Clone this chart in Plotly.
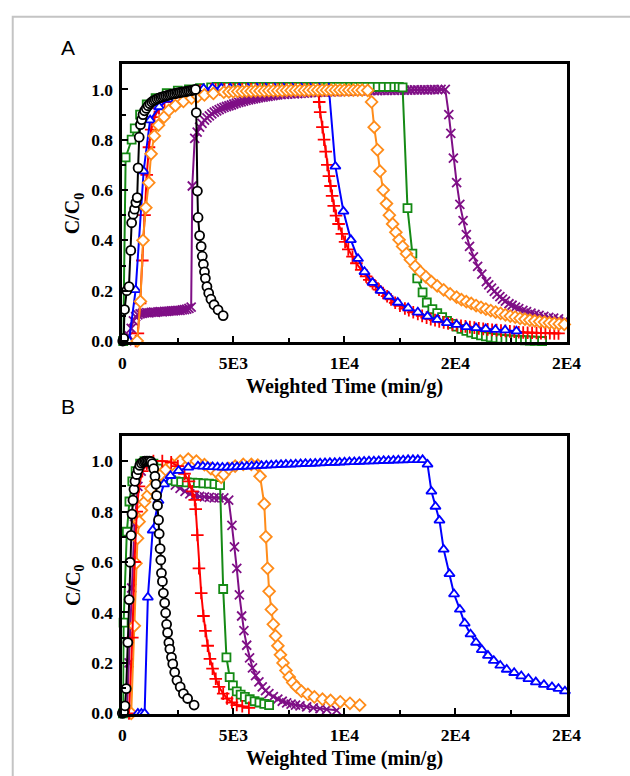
import plotly.graph_objects as go

# ---------------- Panel A: breakthrough / elution curves ----------------
A_BLACK = [(20, 0.0), (60, 0.01), (100, 0.125), (200, 0.20), (300, 0.216), (380, 0.36), (420, 0.47),
           (490, 0.504), (550, 0.524), (610, 0.55), (670, 0.57), (710, 0.688), (760, 0.81), (815, 0.86),
           (870, 0.88), (930, 0.90), (1000, 0.915), (1080, 0.925), (1160, 0.935), (1240, 0.943),
           (1320, 0.95), (1400, 0.955), (1480, 0.958), (1560, 0.962), (1640, 0.965), (1720, 0.968),
           (1800, 0.97), (1880, 0.972), (1960, 0.974), (2040, 0.976), (2120, 0.978), (2200, 0.98),
           (2280, 0.982), (2360, 0.983), (2440, 0.985), (2520, 0.986), (2600, 0.988), (2680, 0.989),
           (2760, 0.99), (2840, 0.991), (2920, 0.993), (3000, 0.994), (3080, 0.995), (3160, 0.997),
           (3240, 0.998), (3300, 1.0), (3330, 0.908), (3380, 0.596), (3410, 0.491), (3480, 0.419),
           (3550, 0.376), (3600, 0.337), (3650, 0.305), (3700, 0.275), (3740, 0.249), (3810, 0.216),
           (3890, 0.19), (3990, 0.166), (4130, 0.144), (4310, 0.124), (4540, 0.101)]

A_GREEN = [(40, 0.0), (150, 0.73), (420, 0.80), (560, 0.845), (800, 0.90), (1100, 0.94), (1500, 0.965),
           (2000, 0.985), (2500, 0.995), (3000, 1.0), (3500, 1.005), (4000, 1.008), (4250, 1.01),
           (4500, 1.01), (4750, 1.01), (5000, 1.01), (5250, 1.01), (5500, 1.01), (5750, 1.01), (6000, 1.01),
           (6250, 1.01), (6500, 1.01), (6750, 1.01), (7000, 1.01), (7250, 1.01), (7500, 1.01), (7750, 1.01),
           (8000, 1.01), (8250, 1.01), (8500, 1.01), (8750, 1.01), (9000, 1.01), (9250, 1.01), (9500, 1.01),
           (9750, 1.01), (10000, 1.01), (10250, 1.01), (10500, 1.01), (10750, 1.01), (11000, 1.01),
           (11250, 1.01), (11500, 1.01), (11750, 1.01), (12000, 1.01), (12250, 1.01), (12450, 1.01),
           (12620, 1.008), (12840, 0.528), (13060, 0.347), (13280, 0.249), (13520, 0.193), (13710, 0.153),
           (13960, 0.127), (14180, 0.111), (14400, 0.095), (14620, 0.08), (14840, 0.068), (15050, 0.057),
           (15270, 0.048), (15490, 0.04), (15710, 0.033), (15930, 0.027), (16150, 0.022), (16370, 0.018),
           (16590, 0.014), (16810, 0.011), (17030, 0.009), (17250, 0.007), (17470, 0.006), (17690, 0.005),
           (17910, 0.004), (18130, 0.003), (18350, 0.002), (18570, 0.001), (18900, 0.0)]

A_RED = [(600, 0.0), (700, 0.03), (800, 0.15), (900, 0.32), (1000, 0.5), (1100, 0.66), (1200, 0.77),
         (1300, 0.84), (1450, 0.89), (1650, 0.925), (1900, 0.95), (2200, 0.965), (2600, 0.978),
         (3000, 0.988), (3500, 0.995), (4000, 1.0), (4200, 1.0), (4400, 1.0), (4600, 1.0), (4800, 1.0),
         (5000, 1.0), (5200, 1.0), (5400, 1.0), (5600, 1.0), (5800, 1.0), (6000, 1.0), (6200, 1.0),
         (6400, 1.0), (6600, 1.0), (6800, 1.0), (7000, 1.0), (7200, 1.0), (7400, 1.0), (7600, 1.0),
         (7800, 1.0), (8000, 1.0), (8200, 1.0), (8400, 1.0), (8600, 1.0), (8836, 1.0), (8865, 0.95),
         (8909, 0.91), (9010, 0.85), (9083, 0.80), (9156, 0.753), (9229, 0.70), (9302, 0.655),
         (9375, 0.616), (9447, 0.577), (9520, 0.537), (9622, 0.498), (9738, 0.465), (9884, 0.426),
         (10030, 0.394), (10175, 0.364), (10364, 0.335), (10539, 0.309), (10757, 0.283), (10976, 0.257),
         (11120, 0.243), (11267, 0.23), (11410, 0.217), (11558, 0.204), (11740, 0.191), (11922, 0.178),
         (12100, 0.165), (12286, 0.152), (12500, 0.14), (12723, 0.129), (12900, 0.122), (13100, 0.114),
         (13305, 0.107), (13500, 0.1), (13700, 0.093), (13887, 0.087), (14080, 0.083), (14270, 0.078),
         (14470, 0.074), (14670, 0.07), (14860, 0.066), (15052, 0.063), (15250, 0.06), (15450, 0.058),
         (15650, 0.055), (15850, 0.053), (16050, 0.05), (16250, 0.048), (16450, 0.046), (16650, 0.044),
         (16850, 0.043), (17050, 0.041), (17250, 0.04), (17450, 0.038), (17650, 0.037), (17850, 0.035),
         (18050, 0.034), (18250, 0.033), (18450, 0.033), (18650, 0.032), (18850, 0.031), (19050, 0.031),
         (19250, 0.031), (19450, 0.03), (19640, 0.03)]

A_BLUE = [(300, 0.0), (600, 0.203), (960, 0.675), (1250, 0.878), (1660, 0.93), (2060, 0.96), (2460, 0.978),
          (2860, 0.99), (3260, 0.998), (3660, 1.003), (4060, 1.005), (4460, 1.005), (4860, 1.005),
          (5260, 1.005), (5660, 1.005), (6060, 1.005), (6460, 1.005), (6860, 1.005), (7260, 1.005),
          (7660, 1.005), (8060, 1.005), (8460, 1.005), (8860, 1.005), (9300, 1.005), (9593, 0.694),
          (9957, 0.515), (10291, 0.402), (10612, 0.327), (10903, 0.275), (11267, 0.232), (11630, 0.20),
          (11995, 0.177), (12402, 0.153), (12868, 0.131), (13305, 0.114), (13742, 0.098), (14178, 0.085),
          (14615, 0.072), (15051, 0.065), (15488, 0.056), (15925, 0.052), (16362, 0.048), (16799, 0.045),
          (17236, 0.043), (17745, 0.039)]

A_ORANGE = [(670, 0.0), (815, 0.157), (931, 0.40), (1060, 0.53), (1193, 0.629), (1295, 0.744), (1441, 0.815),
            (1630, 0.858), (1878, 0.89), (2096, 0.917), (2387, 0.936), (2751, 0.952), (3115, 0.965),
            (3400, 0.972), (3697, 0.978), (4100, 0.984), (4570, 0.989), (4800, 0.99), (5000, 0.991),
            (5200, 0.992), (5400, 0.992), (5600, 0.993), (5800, 0.993), (6000, 0.994), (6200, 0.994),
            (6400, 0.994), (6600, 0.995), (6800, 0.995), (7000, 0.995), (7200, 0.995), (7400, 0.996),
            (7600, 0.996), (7800, 0.996), (8000, 0.996), (8200, 0.996), (8400, 0.996), (8600, 0.997),
            (8800, 0.997), (9000, 0.997), (9200, 0.997), (9400, 0.997), (9600, 0.997), (9800, 0.997),
            (10000, 0.997), (10200, 0.997), (10400, 0.997), (10600, 0.997), (10800, 0.997), (11048, 0.996),
            (11223, 0.95), (11340, 0.85), (11485, 0.76), (11601, 0.675), (11747, 0.60), (11893, 0.546),
            (12024, 0.50), (12170, 0.465), (12315, 0.432), (12461, 0.402), (12621, 0.376), (12795, 0.347),
            (12970, 0.323), (13188, 0.297), (13420, 0.275), (13669, 0.255), (13917, 0.236), (14179, 0.219),
            (14470, 0.203), (14761, 0.187), (15052, 0.174), (15270, 0.164), (15490, 0.156), (15710, 0.149),
            (15930, 0.141), (16150, 0.134), (16370, 0.127), (16590, 0.121), (16810, 0.115), (17030, 0.11),
            (17250, 0.104), (17470, 0.099), (17690, 0.095), (17910, 0.09), (18130, 0.087), (18350, 0.083),
            (18570, 0.08), (18790, 0.077), (19010, 0.075), (19230, 0.072), (19450, 0.07), (19670, 0.068),
            (19900, 0.066)]

A_PURPLE = [(200, 0.0), (300, 0.02), (400, 0.05), (500, 0.08), (600, 0.097), (700, 0.104), (800, 0.108),
            (900, 0.11), (1000, 0.112), (1100, 0.113), (1200, 0.112), (1300, 0.114), (1400, 0.115),
            (1500, 0.114), (1600, 0.116), (1700, 0.117), (1800, 0.116), (1900, 0.118), (2000, 0.118),
            (2100, 0.119), (2200, 0.12), (2300, 0.12), (2400, 0.121), (2500, 0.122), (2600, 0.122),
            (2700, 0.124), (2800, 0.125), (2900, 0.127), (3000, 0.13), (3100, 0.135), (3150, 0.616),
            (3260, 0.805), (3370, 0.83), (3480, 0.85), (3590, 0.865), (3700, 0.878), (3810, 0.887),
            (3920, 0.895), (4030, 0.903), (4140, 0.91), (4250, 0.915), (4360, 0.92), (4470, 0.925),
            (4580, 0.929), (4690, 0.932), (4800, 0.935), (4910, 0.938), (5020, 0.942), (5130, 0.945),
            (5240, 0.948), (5350, 0.95), (5460, 0.953), (5570, 0.956), (5680, 0.958), (5790, 0.96),
            (5900, 0.962), (6010, 0.964), (6120, 0.966), (6230, 0.968), (6340, 0.969), (6450, 0.971),
            (6560, 0.972), (6670, 0.974), (6780, 0.975), (6890, 0.977), (7000, 0.978), (7150, 0.979),
            (7300, 0.98), (7450, 0.981), (7600, 0.982), (7750, 0.982), (7900, 0.983), (8050, 0.984),
            (8200, 0.985), (8350, 0.986), (8500, 0.987), (8650, 0.987), (8800, 0.988), (8950, 0.989),
            (9100, 0.989), (9250, 0.99), (9400, 0.99), (9550, 0.991), (9700, 0.991), (9850, 0.992),
            (10000, 0.992), (10150, 0.993), (10300, 0.993), (10450, 0.993), (10600, 0.994), (10750, 0.994),
            (10900, 0.994), (11050, 0.995), (11200, 0.995), (11350, 0.995), (11500, 0.995), (11650, 0.996),
            (11800, 0.996), (11950, 0.996), (12100, 0.996), (12250, 0.996), (12400, 0.997), (12550, 0.997),
            (12700, 0.997), (12850, 0.997), (13000, 0.997), (13150, 0.998), (13300, 0.998), (13450, 0.998),
            (13600, 0.998), (13750, 0.998), (13900, 0.999), (14050, 0.999), (14200, 0.999), (14350, 1.0),
            (14542, 1.0), (14700, 0.9), (14790, 0.825), (14906, 0.727), (15052, 0.629), (15197, 0.543),
            (15343, 0.478), (15489, 0.423), (15634, 0.376), (15809, 0.334), (15998, 0.297), (16187, 0.266),
            (16391, 0.236), (16500, 0.223), (16624, 0.21), (16750, 0.197), (16871, 0.186), (17000, 0.176),
            (17119, 0.166), (17250, 0.158), (17410, 0.148), (17550, 0.142), (17701, 0.135), (17850, 0.129),
            (18036, 0.122), (18200, 0.117), (18400, 0.111), (18580, 0.106), (18764, 0.102), (18980, 0.098),
            (19201, 0.094), (19420, 0.091), (19638, 0.088), (19929, 0.083)]

# ---------------- Panel B ----------------
B_BLACK = [(0, 0.0), (58, 0.005), (120, 0.03), (175, 0.098), (247, 0.281), (306, 0.451), (349, 0.599),
           (393, 0.706), (437, 0.79), (480, 0.845), (524, 0.888), (568, 0.92), (640, 0.947), (713, 0.966),
           (786, 0.983), (860, 0.992), (940, 0.997), (1010, 1.0), (1080, 1.0), (1150, 1.0), (1220, 1.0),
           (1290, 0.998), (1350, 0.99), (1413, 0.97), (1470, 0.94), (1514, 0.909), (1543, 0.863),
           (1587, 0.824), (1631, 0.767), (1660, 0.712), (1703, 0.653), (1732, 0.608), (1762, 0.556),
           (1805, 0.523), (1849, 0.477), (1907, 0.438), (1951, 0.398), (1994, 0.353), (2038, 0.32),
           (2096, 0.281), (2140, 0.255), (2213, 0.222), (2271, 0.196), (2358, 0.163), (2460, 0.131),
           (2606, 0.105), (2751, 0.078), (2940, 0.059), (3231, 0.033)]

B_GREEN = [(29, 0.0), (58, 0.36), (204, 0.72), (320, 0.84), (450, 0.92), (600, 0.96), (800, 0.99),
           (1000, 1.0), (1200, 1.0), (1400, 0.99), (1600, 0.97), (1800, 0.95), (2000, 0.935), (2200, 0.925),
           (2400, 0.92), (2650, 0.918), (2900, 0.916), (3150, 0.915), (3400, 0.914), (3650, 0.912),
           (3900, 0.911), (4150, 0.909), (4400, 0.905), (4542, 0.493), (4688, 0.222), (4833, 0.144),
           (4979, 0.111), (5153, 0.087), (5328, 0.074), (5518, 0.065), (5736, 0.056), (5955, 0.048),
           (6173, 0.043), (6391, 0.038), (6610, 0.033)]

B_RED = [(300, 0.0), (450, 0.3), (550, 0.6), (650, 0.8), (750, 0.9), (900, 0.96), (1100, 0.99), (1400, 1.0),
         (1800, 1.0), (2200, 0.995), (2500, 0.98), (2800, 0.95), (3000, 0.92), (3150, 0.88), (3261, 0.846),
         (3304, 0.81), (3377, 0.707), (3450, 0.575), (3552, 0.477), (3654, 0.386), (3741, 0.327),
         (3843, 0.268), (3945, 0.216), (4062, 0.177), (4207, 0.137), (4353, 0.105), (4542, 0.078),
         (4717, 0.059), (4935, 0.043), (5153, 0.033), (5400, 0.028), (5700, 0.022)]

B_PURPLE = [(200, 0.0), (300, 0.2), (422, 0.497), (550, 0.75), (700, 0.9), (850, 0.96), (1000, 0.99),
            (1150, 1.0), (1300, 0.99), (1500, 0.96), (1700, 0.945), (1951, 0.935), (2170, 0.918),
            (2388, 0.905), (2600, 0.892), (2824, 0.88), (3040, 0.87), (3261, 0.863), (3480, 0.86),
            (3697, 0.858), (3915, 0.856), (4134, 0.854), (4350, 0.854), (4571, 0.854), (4790, 0.845),
            (4935, 0.745), (5050, 0.66), (5153, 0.575), (5270, 0.47), (5372, 0.386), (5474, 0.328),
            (5600, 0.27), (5730, 0.22), (5860, 0.18), (6000, 0.15), (6150, 0.125), (6300, 0.105),
            (6450, 0.09), (6600, 0.078), (6800, 0.066), (7000, 0.056), (7200, 0.048), (7400, 0.042),
            (7600, 0.037), (7800, 0.033), (8000, 0.03), (8300, 0.026), (8600, 0.022), (8900, 0.019),
            (9200, 0.016), (9650, 0.012)]

B_BLUE = [(700, 0.0), (860, 0.0), (1004, 0.0), (1150, 0.46), (1368, 0.726), (1630, 0.843), (1878, 0.909),
          (2169, 0.942), (2533, 0.962), (2970, 0.975), (3406, 0.98), (3626, 0.979), (3846, 0.978),
          (4066, 0.977), (4286, 0.976), (4506, 0.975), (4726, 0.975), (4946, 0.976), (5166, 0.977),
          (5386, 0.978), (5606, 0.979), (5826, 0.98), (6046, 0.981), (6266, 0.982), (6486, 0.983),
          (6706, 0.984), (6926, 0.985), (7146, 0.986), (7366, 0.987), (7586, 0.987), (7806, 0.988),
          (8026, 0.989), (8246, 0.99), (8466, 0.99), (8686, 0.991), (8906, 0.992), (9126, 0.993),
          (9346, 0.994), (9566, 0.994), (9786, 0.995), (10006, 0.996), (10226, 0.997), (10446, 0.997),
          (10666, 0.998), (10886, 0.999), (11106, 1.0), (11326, 1.0), (11546, 1.001), (11766, 1.002),
          (11986, 1.002), (12206, 1.003), (12426, 1.004), (12646, 1.004), (12866, 1.005), (13086, 1.005),
          (13306, 1.005), (13520, 1.005), (13743, 0.987), (13917, 0.88), (14100, 0.82), (14280, 0.765),
          (14469, 0.65), (14731, 0.553), (14936, 0.473), (15197, 0.412), (15416, 0.357), (15678, 0.314),
          (15926, 0.281), (16187, 0.252), (16463, 0.229), (16725, 0.209), (17017, 0.19), (17308, 0.174),
          (17643, 0.161), (17963, 0.148), (18285, 0.137), (18618, 0.124), (18983, 0.114), (19346, 0.105),
          (19638, 0.098), (19929, 0.088)]

B_ORANGE = [(400, 0.0), (539, 0.347), (612, 0.595), (684, 0.694), (757, 0.76), (859, 0.805), (1004, 0.838),
            (1150, 0.864), (1295, 0.89), (1514, 0.92), (1732, 0.947), (1951, 0.966), (2242, 0.986),
            (2606, 1.0), (2970, 1.008), (3334, 1.0), (3698, 0.986), (3989, 0.97), (4280, 0.953),
            (4455, 0.936), (4571, 0.947), (4790, 0.97), (5081, 0.98), (5445, 0.987), (5809, 0.987),
            (6100, 0.984), (6202, 0.94), (6391, 0.83), (6464, 0.70), (6537, 0.575), (6610, 0.484),
            (6712, 0.412), (6799, 0.353), (6901, 0.307), (7003, 0.268), (7119, 0.232), (7236, 0.20),
            (7367, 0.17), (7513, 0.144), (7673, 0.122), (7847, 0.105), (8065, 0.088), (8357, 0.075),
            (8648, 0.065), (9012, 0.056), (9376, 0.051), (9813, 0.046), (10250, 0.04), (10686, 0.033)]

X_TICKS = [0, 5000, 10000, 15000, 20000]
X_TICK_TEXT = ["0", "5E3", "1E4", "2E4", "2E4"]
Y_TICKS = [0.0, 0.2, 0.4, 0.6, 0.8, 1.0]
Y_TICK_TEXT = ["0.0", "0.2", "0.4", "0.6", "0.8", "1.0"]

W, H = 630, 776

# marker styles per series: (colour, symbol, size, fill)
STYLES = {
    "purple": ("#7f0f86", "x-thin", 9, None),
    "green": ("#158a15", "square", 8, "white"),
    "orange": ("#ff8c1a", "diamond", 9, "white"),
    "red": ("#ff0000", "cross-thin", 9, None),
    "blue": ("#0000ff", "triangle-up", 9, "white"),
    "black": ("#000000", "circle", 9, "white"),
}

# drawing order (later traces sit on top)
PANEL_A = [("purple", A_PURPLE), ("green", A_GREEN), ("red", A_RED),
           ("blue", A_BLUE), ("orange", A_ORANGE), ("black", A_BLACK)]
PANEL_B = [("purple", B_PURPLE), ("green", B_GREEN), ("orange", B_ORANGE),
           ("red", B_RED), ("blue", B_BLUE), ("black", B_BLACK)]

fig = go.Figure()


def add_series(name, pts, xa, ya):
    colour, symbol, size, fill = STYLES[name]
    xs = [p[0] for p in pts]
    ys = [p[1] for p in pts]
    marker = dict(symbol=symbol, size=size, line=dict(color=colour, width=1.8))
    marker["color"] = fill if fill else colour
    fig.add_trace(go.Scatter(
        x=xs, y=ys, mode="lines+markers", xaxis=xa, yaxis=ya,
        line=dict(color=colour, width=2), marker=marker,
        cliponaxis=False, showlegend=False, hoverinfo="skip"))


for name, pts in PANEL_A:
    add_series(name, pts, "x", "y")
for name, pts in PANEL_B:
    add_series(name, pts, "x2", "y2")

tick_font = dict(family="Liberation Serif", size=17.5, color="black", weight="bold")


def xaxis_cfg():
    return dict(domain=[122 / W, 580 / W], range=[0, 20000], tickmode="array",
                tickvals=X_TICKS, ticktext=X_TICK_TEXT, ticks="inside", ticklen=6, tickwidth=2,
                tickcolor="black", minor=dict(dtick=2500, ticks="inside", ticklen=4, tickwidth=2,
                                              tickcolor="black"),
                showline=True, linewidth=2.5, linecolor="black", mirror=True,
                showgrid=False, zeroline=False, tickfont=tick_font, ticklabelstandoff=3,
                fixedrange=True)


def yaxis_cfg(top_px, bottom_px, lo):
    return dict(domain=[1 - bottom_px / H, 1 - top_px / H], range=[lo, 1.1], tickmode="array",
                tickvals=Y_TICKS, ticktext=Y_TICK_TEXT, ticks="inside", ticklen=6, tickwidth=2,
                tickcolor="black", minor=dict(dtick=0.1, tick0=0, ticks="inside", ticklen=4,
                                              tickwidth=2, tickcolor="black"),
                showline=True, linewidth=2.5, linecolor="black", mirror=True,
                showgrid=False, zeroline=False, tickfont=tick_font, ticklabelstandoff=3,
                fixedrange=True)


xa2 = xaxis_cfg()
xa2["anchor"] = "y2"
ya2 = yaxis_cfg(441, 722.5, -0.003)
ya2["anchor"] = "x2"

fig.update_layout(
    width=W, height=H, margin=dict(l=0, r=0, t=0, b=0),
    paper_bgcolor="white", plot_bgcolor="white",
    xaxis=xaxis_cfg(), yaxis=yaxis_cfg(65, 346, -0.004),
    xaxis2=xa2, yaxis2=ya2,
)

title_font = dict(family="Liberation Serif", size=20, color="black", weight="bold")
annotations = []
for y_title_px, y_label_px, panel_px, cy_px in [(391, 48, "A", 216), (767, 411, "B", 592)]:
    annotations.append(dict(text="Weighted Time (min/g)", x=351 / W, y=1 - y_title_px / H,
                            xref="paper", yref="paper", showarrow=False, font=title_font,
                            xanchor="center", yanchor="middle"))
    annotations.append(dict(text="C/C<sub>0</sub>", x=72 / W, y=1 - cy_px / H, xref="paper",
                            yref="paper", showarrow=False, font=title_font, textangle=-90,
                            xanchor="center", yanchor="middle"))
    annotations.append(dict(text=panel_px, x=66 / W, y=1 - y_label_px / H, xref="paper",
                            yref="paper", showarrow=False,
                            font=dict(family="Liberation Sans", size=21, color="black"),
                            xanchor="center", yanchor="middle"))
fig.update_layout(annotations=annotations)

# light frame around the figure
fig.add_shape(type="rect", xref="paper", yref="paper", x0=9 / W, x1=1.2, y0=-0.2, y1=1 - 17 / H,
              line=dict(color="#c4c4c4", width=2), fillcolor="rgba(0,0,0,0)", layer="below")

fig.write_html("out.html")
